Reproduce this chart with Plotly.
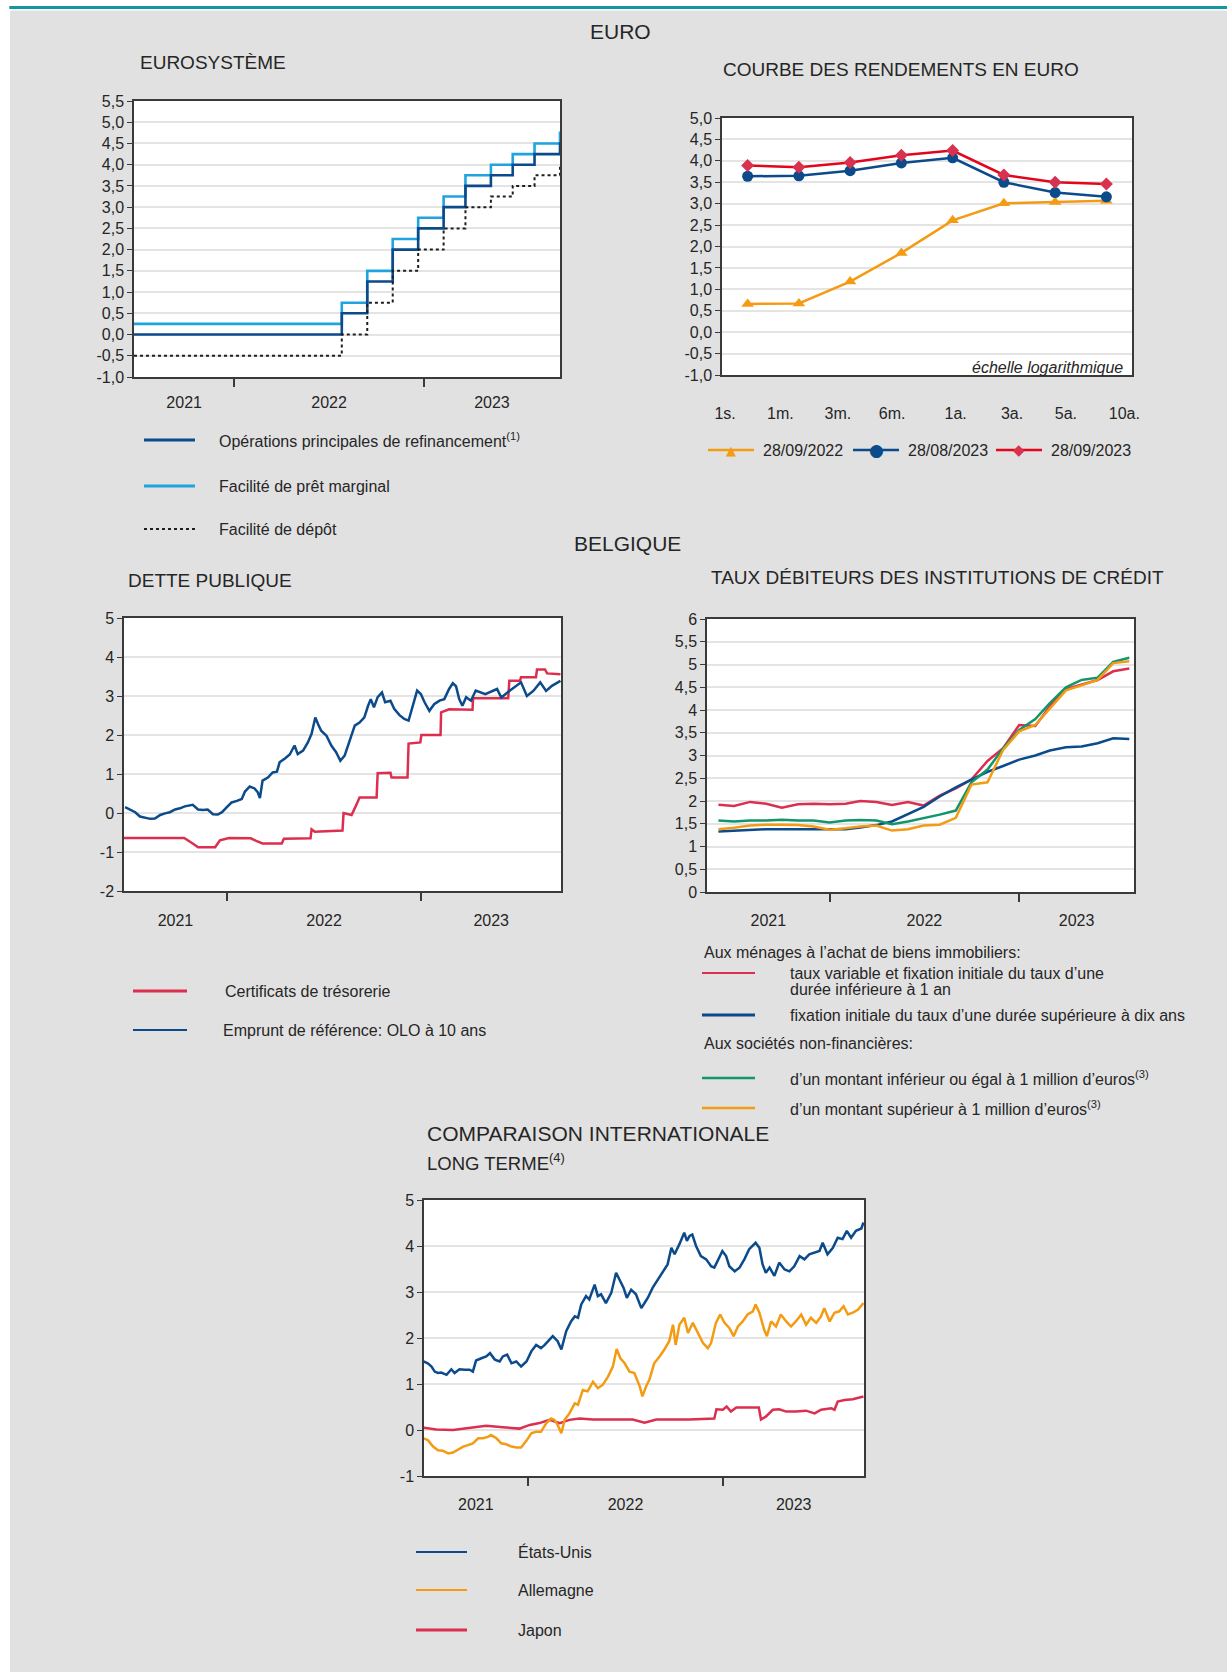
import pandas as pd
import plotly.graph_objects as go

W, H = 1227, 1672
FONT = "Liberation Sans, Arial, sans-serif"

# ---------------- colours ----------------
GREY_BG = "#e1e1e1"
TEAL = "#1597a1"
DARK_BLUE = "#0b4a8b"
LIGHT_BLUE = "#1fa4df"
ORANGE = "#f49b14"
RED_LINE = "#e3051b"
RED_MARK = "#d8324f"
CRIMSON = "#dc2f4f"
GREEN = "#13956b"
GRID = "#e4e4e4"
AXIS = "#3a3a3a"
TXT = "#262626"

# ---------------- data ----------------
# Chart 1 : Eurosystème policy rates (dates of changes)
ECB_DATES = ["2021-06-22", "2022-07-27", "2022-09-14", "2022-11-02", "2022-12-21", "2023-02-08",
             "2023-03-22", "2023-05-10", "2023-06-21", "2023-08-02", "2023-09-20", "2023-09-21"]
MRO = [0.00, 0.50, 1.25, 2.00, 2.50, 3.00, 3.50, 3.75, 4.00, 4.25, 4.50, 4.50]
MLF = [0.25, 0.75, 1.50, 2.25, 2.75, 3.25, 3.75, 4.00, 4.25, 4.50, 4.75, 4.75]
DFR = [-0.50, 0.00, 0.75, 1.50, 2.00, 2.50, 3.00, 3.25, 3.50, 3.75, 4.00, 4.00]

# Chart 2 : yield curve
MATURITY_LABELS = ["1s.", "1m.", "3m.", "6m.", "1a.", "3a.", "5a.", "10a."]
MATURITY_TICKPOS = [-0.44, 0.64, 1.76, 2.82, 4.06, 5.16, 6.21, 7.35]
CURVE_POINTS = [0, 1, 2, 3, 4, 5, 6, 7]
CURVE_DATES = ["28/09/2022", "28/08/2023", "28/09/2023"]
CURVE_2022_09_28 = [0.66, 0.67, 1.18, 1.85, 2.61, 3.01, 3.04, 3.07]
CURVE_2023_08_28 = [3.64, 3.65, 3.77, 3.95, 4.07, 3.50, 3.26, 3.16]
CURVE_2023_09_28 = [3.89, 3.85, 3.96, 4.13, 4.24, 3.67, 3.50, 3.46]

# Daily series: days relative to 1 January 2022
BASE_DATE = "2022-01-01"

# Chart 3 : Belgian public debt
OLO_DAYS = [-191, -182, -172, -163, -154, -144, -135, -125, -116, -107,
            -97, -88, -79, -69, -64, -54, -45, -36, -26, -17,
            -9, 0, 9, 19, 28, 34, 43, 52, 58, 62,
            67, 77, 86, 94, 99, 109, 118, 127, 133, 143,
            152, 159, 166, 171, 177, 187, 196, 205, 213, 221,
            230, 240, 249, 258, 265, 270, 276, 283, 291, 297,
            307, 314, 324, 333, 341, 349, 357, 364, 371, 380,
            389, 399, 408, 417, 424, 430, 436, 442, 449, 458,
            467, 485, 507, 515, 530, 552, 563, 575, 588, 599,
            610, 626]
OLO_VALS = [0.15, 0.09, 0.02, -0.09, -0.12, -0.15, -0.14, -0.05, -0.01, 0.02,
            0.09, 0.12, 0.17, 0.19, 0.21, 0.09, 0.08, 0.09, -0.03, -0.04,
            0.02, 0.15, 0.27, 0.31, 0.36, 0.55, 0.68, 0.63, 0.53, 0.38,
            0.83, 0.91, 1.04, 1.06, 1.30, 1.40, 1.50, 1.73, 1.51, 1.60,
            1.81, 2.03, 2.45, 2.28, 2.11, 1.98, 1.73, 1.56, 1.34, 1.47,
            1.81, 2.24, 2.32, 2.45, 2.75, 2.92, 2.71, 2.97, 3.09, 2.84,
            2.88, 2.67, 2.51, 2.41, 2.37, 2.75, 3.14, 3.05, 2.84, 2.62,
            2.79, 2.88, 2.92, 3.18, 3.33, 3.25, 2.92, 2.75, 2.97, 2.88,
            3.14, 3.05, 3.18, 2.96, 3.13, 3.35, 3.00, 3.13, 3.35, 3.13,
            3.26, 3.39]
TC_DAYS = [-193, -80, -62, -54, -22, -13, 4, 45, 54, 67,
           103, 107, 157, 159, 165, 217, 219, 234, 241, 249,
           281, 283, 307, 309, 339, 341, 363, 365, 401, 402,
           417, 461, 462, 528, 530, 550, 552, 580, 582, 597,
           601, 626]
TC_VALS = [-0.64, -0.64, -0.80, -0.88, -0.88, -0.70, -0.64, -0.65, -0.71, -0.78,
           -0.78, -0.66, -0.65, -0.42, -0.48, -0.45, 0.00, -0.05, 0.15, 0.40,
           0.40, 1.02, 1.03, 0.91, 0.91, 1.78, 1.81, 2.00, 2.00, 2.58,
           2.66, 2.65, 2.94, 2.94, 3.39, 3.39, 3.48, 3.48, 3.68, 3.68,
           3.58, 3.56]

# Chart 4 : lending rates (monthly)
MONTH_START, MONTH_END = "2021-06-01", "2023-08-01"
MORTGAGE_VARIABLE = [1.92, 1.89, 1.98, 1.94, 1.85, 1.93, 1.94, 1.93, 1.94, 2.00,
                     1.98, 1.91, 1.98, 1.90, 2.12, 2.28, 2.47, 2.88, 3.16, 3.67,
                     3.65, 4.08, 4.46, 4.55, 4.66, 4.85, 4.91]
MORTGAGE_FIXED10 = [1.33, 1.35, 1.36, 1.38, 1.38, 1.38, 1.38, 1.38, 1.38, 1.42,
                    1.47, 1.55, 1.71, 1.87, 2.10, 2.30, 2.47, 2.64, 2.77, 2.91,
                    3.00, 3.11, 3.18, 3.20, 3.27, 3.38, 3.36]
NFC_SMALL = [1.57, 1.55, 1.57, 1.57, 1.59, 1.57, 1.57, 1.53, 1.57, 1.58,
             1.57, 1.49, 1.55, 1.62, 1.70, 1.79, 2.41, 2.69, 3.16, 3.56,
             3.80, 4.15, 4.50, 4.66, 4.71, 5.06, 5.15]
NFC_LARGE = [1.38, 1.41, 1.46, 1.48, 1.48, 1.47, 1.44, 1.37, 1.40, 1.44,
             1.46, 1.35, 1.38, 1.46, 1.48, 1.63, 2.36, 2.41, 3.12, 3.53,
             3.67, 4.04, 4.43, 4.54, 4.66, 5.03, 5.07]

# Chart 5 : international long-term rates
US_DAYS = [-194, -186, -179, -173, -167, -161, -151, -142, -136, -127,
           -117, -108, -102, -96, -86, -77, -70, -61, -52, -46,
           -38, -30, -21, -12, -2, 7, 16, 25, 32, 41,
           47, 56, 63, 72, 81, 88, 94, 100, 109, 115,
           125, 131, 137, 146, 156, 165, 171, 179, 185, 193,
           202, 212, 218, 224, 233, 243, 252, 261, 268, 274,
           283, 292, 297, 302, 307, 314, 323, 333, 342, 348,
           354, 363, 370, 376, 386, 395, 404, 413, 425, 432,
           438, 444, 451, 460, 469, 479, 488, 497, 507, 516,
           525, 535, 544, 550, 559, 569, 578, 587, 595, 603,
           612, 622, 626]
US_VALS = [1.49, 1.45, 1.38, 1.27, 1.24, 1.25, 1.20, 1.32, 1.24, 1.32,
           1.31, 1.31, 1.27, 1.51, 1.56, 1.60, 1.67, 1.53, 1.49, 1.60,
           1.64, 1.45, 1.49, 1.38, 1.49, 1.71, 1.85, 1.78, 1.85, 1.96,
           2.04, 1.93, 1.75, 2.15, 2.36, 2.47, 2.44, 2.73, 2.91, 2.84,
           3.16, 2.91, 2.95, 2.76, 2.98, 3.42, 3.27, 3.09, 2.87, 3.05,
           2.95, 2.65, 2.76, 2.87, 3.09, 3.27, 3.45, 3.60, 3.96, 3.82,
           4.04, 4.29, 4.11, 4.22, 4.25, 4.00, 3.78, 3.71, 3.56, 3.53,
           3.67, 3.89, 3.78, 3.56, 3.45, 3.53, 3.71, 3.93, 4.07, 3.96,
           3.60, 3.42, 3.53, 3.35, 3.64, 3.49, 3.45, 3.56, 3.78, 3.71,
           3.82, 3.85, 3.89, 4.07, 3.82, 3.96, 4.18, 4.15, 4.33, 4.18,
           4.33, 4.38, 4.51]
DE_DAYS = [-194, -186, -176, -167, -158, -148, -139, -130, -120, -111,
           -102, -92, -83, -74, -68, -58, -49, -40, -30, -21,
           -12, -2, 7, 16, 25, 35, 44, 50, 56, 63,
           69, 78, 88, 94, 103, 112, 122, 131, 140, 150,
           159, 166, 173, 181, 190, 199, 209, 214, 221, 227,
           236, 246, 255, 264, 271, 276, 283, 292, 299, 308,
           317, 327, 336, 342, 351, 359, 367, 376, 384, 392,
           401, 410, 420, 425, 432, 441, 446, 454, 463, 472,
           482, 491, 500, 510, 519, 528, 538, 547, 553, 563,
           572, 581, 589, 597, 606, 616, 626]
DE_VALS = [-0.18, -0.22, -0.36, -0.44, -0.45, -0.51, -0.49, -0.42, -0.36, -0.33,
           -0.29, -0.18, -0.18, -0.15, -0.11, -0.18, -0.29, -0.31, -0.36, -0.38,
           -0.38, -0.23, -0.07, -0.04, -0.04, 0.15, 0.25, 0.22, 0.11, -0.07,
           0.22, 0.36, 0.58, 0.55, 0.87, 0.84, 1.05, 0.91, 0.98, 1.16,
           1.38, 1.76, 1.56, 1.45, 1.27, 1.24, 0.95, 0.73, 0.95, 1.09,
           1.45, 1.60, 1.75, 1.93, 2.29, 1.85, 2.29, 2.44, 2.11, 2.33,
           2.11, 1.89, 1.78, 1.89, 2.33, 2.51, 2.33, 2.22, 2.04, 2.25,
           2.36, 2.51, 2.58, 2.73, 2.55, 2.18, 2.04, 2.36, 2.25, 2.51,
           2.36, 2.25, 2.36, 2.51, 2.29, 2.44, 2.33, 2.47, 2.65, 2.36,
           2.55, 2.58, 2.69, 2.51, 2.55, 2.62, 2.76]
JP_DAYS = [-194, -170, -139, -108, -77, -46, -15, 4, 22, 41,
           60, 78, 97, 122, 147, 171, 196, 218, 240, 271,
           302, 348, 352, 364, 371, 379, 389, 407, 431, 435,
           444, 457, 469, 482, 500, 519, 535, 547, 566, 572,
           578, 591, 606, 626]
JP_VALS = [0.05, 0.01, 0.00, 0.05, 0.09, 0.06, 0.03, 0.11, 0.15, 0.22,
           0.15, 0.22, 0.25, 0.23, 0.23, 0.23, 0.23, 0.16, 0.23, 0.23,
           0.23, 0.25, 0.45, 0.44, 0.51, 0.40, 0.49, 0.49, 0.49, 0.23,
           0.29, 0.44, 0.45, 0.40, 0.40, 0.42, 0.36, 0.44, 0.47, 0.44,
           0.62, 0.65, 0.67, 0.73]

# Axis tick labels
Y1_VALS = [-1.0, -0.5, 0.0, 0.5, 1.0, 1.5, 2.0, 2.5, 3.0, 3.5, 4.0, 4.5, 5.0, 5.5]
Y1_TEXT = ["-1,0", "-0,5", "0,0", "0,5", "1,0", "1,5", "2,0", "2,5", "3,0", "3,5", "4,0", "4,5", "5,0", "5,5"]
Y2_VALS = [-1.0, -0.5, 0.0, 0.5, 1.0, 1.5, 2.0, 2.5, 3.0, 3.5, 4.0, 4.5, 5.0]
Y2_TEXT = ["-1,0", "-0,5", "0,0", "0,5", "1,0", "1,5", "2,0", "2,5", "3,0", "3,5", "4,0", "4,5", "5,0"]
Y3_VALS = [-2, -1, 0, 1, 2, 3, 4, 5]
Y3_TEXT = ["-2", "-1", "0", "1", "2", "3", "4", "5"]
Y4_VALS = [0, 0.5, 1, 1.5, 2, 2.5, 3, 3.5, 4, 4.5, 5, 5.5, 6]
Y4_TEXT = ["0", "0,5", "1", "1,5", "2", "2,5", "3", "3,5", "4", "4,5", "5", "5,5", "6"]
Y5_VALS = [-1, 0, 1, 2, 3, 4, 5]
Y5_TEXT = ["-1", "0", "1", "2", "3", "4", "5"]

DAILY_RANGE = ("2021-06-22", "2023-09-20")
MONTHLY_RANGE = ("2021-05-10", "2023-08-10")

TICK_SIZE = 16
TEXT_SIZE = 16

# ---------------- helpers ----------------
def to_dates(days):
    return pd.Timestamp(BASE_DATE) + pd.to_timedelta(days, unit="D")


def dom_x(a, b):
    return [a / W, b / W]


def dom_y(top, bottom):
    return [1 - bottom / H, 1 - top / H]


def y_axis(domain, anchor, rng, vals, texts):
    return dict(domain=domain, anchor=anchor, range=rng, tickmode="array", tickvals=vals,
                ticktext=texts, showgrid=True, gridcolor=GRID, gridwidth=2, zeroline=False,
                showline=True, linecolor=AXIS, linewidth=1.5, mirror=True, ticks="outside",
                ticklen=5, tickwidth=1, tickcolor=AXIS, tickfont=dict(size=TICK_SIZE, color=TXT),
                automargin=False, fixedrange=True)


def date_axis(domain, anchor, start, end, standoff):
    s, e = pd.Timestamp(start), pd.Timestamp(end)
    bounds = [pd.Timestamp(f"{y}-01-01") for y in range(s.year + 1, e.year + 1)]
    edges = [s] + bounds + [e]
    mids = [a + (b - a) / 2 for a, b in zip(edges[:-1], edges[1:])]
    return dict(domain=domain, anchor=anchor, type="date", range=[s, e], tickmode="array",
                tickvals=mids, ticktext=[str(m.year) for m in mids], ticks="",
                showgrid=False, zeroline=False, showline=True, mirror=True, linecolor=AXIS,
                linewidth=1.5, tickfont=dict(size=TICK_SIZE, color=TXT), ticklabelstandoff=standoff,
                minor=dict(tickmode="array", tickvals=bounds, ticks="outside", ticklen=8,
                           tickwidth=1.5, tickcolor=AXIS, showgrid=False),
                automargin=False, fixedrange=True)


fig = go.Figure()

# ---------------- chart 1 ----------------
fig.add_trace(go.Scatter(x=ECB_DATES, y=MLF, mode="lines", xaxis="x", yaxis="y",
                         line=dict(color=LIGHT_BLUE, width=2.6, shape="hv")))
fig.add_trace(go.Scatter(x=ECB_DATES, y=MRO, mode="lines", xaxis="x", yaxis="y",
                         line=dict(color=DARK_BLUE, width=2.6, shape="hv")))
fig.add_trace(go.Scatter(x=ECB_DATES, y=DFR, mode="lines", xaxis="x", yaxis="y",
                         line=dict(color="#1e1e1e", width=2, dash="dot", shape="hv")))

# ---------------- chart 2 ----------------
fig.add_trace(go.Scatter(x=CURVE_POINTS, y=CURVE_2022_09_28, mode="lines+markers",
                         xaxis="x2", yaxis="y2", line=dict(color=ORANGE, width=2.5),
                         marker=dict(symbol="triangle-up", size=11, color=ORANGE)))
fig.add_trace(go.Scatter(x=CURVE_POINTS, y=CURVE_2023_08_28, mode="lines+markers",
                         xaxis="x2", yaxis="y2", line=dict(color=DARK_BLUE, width=2.5),
                         marker=dict(symbol="circle", size=11, color=DARK_BLUE)))
fig.add_trace(go.Scatter(x=CURVE_POINTS, y=CURVE_2023_09_28, mode="lines+markers",
                         xaxis="x2", yaxis="y2", line=dict(color=RED_LINE, width=2.5),
                         marker=dict(symbol="diamond", size=10, color=RED_MARK)))

# ---------------- chart 3 ----------------
fig.add_trace(go.Scatter(x=to_dates(TC_DAYS), y=TC_VALS, mode="lines", xaxis="x3", yaxis="y3",
                         line=dict(color=CRIMSON, width=2.5)))
fig.add_trace(go.Scatter(x=to_dates(OLO_DAYS), y=OLO_VALS, mode="lines", xaxis="x3", yaxis="y3",
                         line=dict(color=DARK_BLUE, width=2.5)))

# ---------------- chart 4 ----------------
months = pd.date_range(MONTH_START, MONTH_END, freq="MS")
for vals, col in [(MORTGAGE_VARIABLE, CRIMSON), (MORTGAGE_FIXED10, DARK_BLUE),
                  (NFC_SMALL, GREEN), (NFC_LARGE, ORANGE)]:
    fig.add_trace(go.Scatter(x=months, y=vals, mode="lines", xaxis="x4", yaxis="y4",
                             line=dict(color=col, width=2.5)))

# ---------------- chart 5 ----------------
fig.add_trace(go.Scatter(x=to_dates(JP_DAYS), y=JP_VALS, mode="lines", xaxis="x5", yaxis="y5",
                         line=dict(color=CRIMSON, width=2.5)))
fig.add_trace(go.Scatter(x=to_dates(DE_DAYS), y=DE_VALS, mode="lines", xaxis="x5", yaxis="y5",
                         line=dict(color=ORANGE, width=2.5)))
fig.add_trace(go.Scatter(x=to_dates(US_DAYS), y=US_VALS, mode="lines", xaxis="x5", yaxis="y5",
                         line=dict(color=DARK_BLUE, width=2.5)))

# ---------------- axes ----------------
layout_axes = dict(
    xaxis=date_axis(dom_x(134, 560), "y", *DAILY_RANGE, 10),
    yaxis=y_axis(dom_y(101, 377), "x", [-1, 5.5], Y1_VALS, Y1_TEXT),
    xaxis2=dict(domain=dom_x(722, 1132), anchor="y2", range=[-0.5, 7.5], tickmode="array",
                tickvals=MATURITY_TICKPOS, ticktext=MATURITY_LABELS, ticks="", showgrid=False,
                zeroline=False, showline=True, mirror=True, linecolor=AXIS, linewidth=1.5,
                tickfont=dict(size=TICK_SIZE, color=TXT), ticklabelstandoff=23,
                automargin=False, fixedrange=True),
    yaxis2=y_axis(dom_y(118, 375), "x2", [-1, 5], Y2_VALS, Y2_TEXT),
    xaxis3=date_axis(dom_x(124, 561), "y3", *DAILY_RANGE, 14),
    yaxis3=y_axis(dom_y(618, 891), "x3", [-2, 5], Y3_VALS, Y3_TEXT),
    xaxis4=date_axis(dom_x(707, 1134), "y4", *MONTHLY_RANGE, 13),
    yaxis4=y_axis(dom_y(619, 892), "x4", [0, 6], Y4_VALS, Y4_TEXT),
    xaxis5=date_axis(dom_x(424, 864), "y5", *DAILY_RANGE, 13),
    yaxis5=y_axis(dom_y(1200, 1476), "x5", [-1, 5], Y5_VALS, Y5_TEXT),
)

# ---------------- text ----------------
annotations = []


def text(t, x, y, size=TEXT_SIZE, xanchor="left", color=TXT, family=FONT):
    annotations.append(dict(text=t, x=x / W, y=1 - y / H, xref="paper", yref="paper",
                            xanchor=xanchor, yanchor="middle", showarrow=False,
                            font=dict(size=size, color=color, family=family)))


text("EURO", 620, 32, 21, "center")
text("EUROSYSTÈME", 138, 63, 19)
text("COURBE DES RENDEMENTS EN EURO", 721, 70, 19)
text("<i>échelle logarithmique</i>", 1125, 367, 16, "right")
text("BELGIQUE", 627, 543, 21, "center")
text("DETTE PUBLIQUE", 126, 580, 19)
text("TAUX DÉBITEURS DES INSTITUTIONS DE CRÉDIT", 709, 577, 19)
text("COMPARAISON INTERNATIONALE", 425, 1133, 21)
text("LONG TERME<sup>(4)</sup>", 425, 1162, 18.5)

shapes = [
    dict(type="rect", xref="paper", yref="paper", x0=0, x1=1, y0=1 - 10.5 / H, y1=1,
         fillcolor="white", line=dict(width=0), layer="above"),
    dict(type="rect", xref="paper", yref="paper", x0=0, x1=10 / W, y0=0, y1=1,
         fillcolor="white", line=dict(width=0), layer="above"),
    dict(type="rect", xref="paper", yref="paper", x0=9.3 / W, x1=1, y0=1 - 9 / H, y1=1 - 6 / H,
         fillcolor=TEAL, line=dict(width=0), layer="above"),
]


def legend_line(x0, x1, y, color, width=2.5, dash="solid"):
    shapes.append(dict(type="line", xref="paper", yref="paper", x0=x0 / W, x1=x1 / W,
                       y0=1 - y / H, y1=1 - y / H, line=dict(color=color, width=width, dash=dash)))


# chart 1 legend
legend_line(144, 195, 440, DARK_BLUE, 3)
text("Opérations principales de refinancement<sup>(1)</sup>", 217, 440)
legend_line(144, 195, 486, LIGHT_BLUE, 3)
text("Facilité de prêt marginal", 217, 486)
legend_line(144, 195, 529, "#1e1e1e", 2, "dot")
text("Facilité de dépôt", 217, 529)

# chart 2 legend (line sample + marker glyph + label)
for (x0, glyph, gsize, col, mcol), label in zip(
        [(708, "▲", 13, ORANGE, ORANGE), (853, "●", 17, DARK_BLUE, DARK_BLUE),
         (996, "◆", 15, RED_LINE, RED_MARK)], CURVE_DATES):
    legend_line(x0, x0 + 46, 450, col, 2.5)
    text(glyph, x0 + 23, 450, gsize, "center", mcol, "DejaVu Sans")
    text(label, x0 + 53, 450)

# chart 3 legend
legend_line(133, 187, 991, CRIMSON, 3)
text("Certificats de trésorerie", 223, 991)
legend_line(133, 187, 1030, DARK_BLUE, 2)
text("Emprunt de référence: OLO à 10 ans", 221, 1030)

# chart 4 legend
text("Aux ménages à l’achat de biens immobiliers:", 702, 952)
legend_line(702, 755, 973, CRIMSON, 2)
text("taux variable et fixation initiale du taux d’une", 788, 973)
text("durée inférieure à 1 an", 788, 989)
legend_line(702, 755, 1015, DARK_BLUE, 3)
text("fixation initiale du taux d’une durée supérieure à dix ans", 788, 1015)
text("Aux sociétés non-financières:", 702, 1043)
legend_line(702, 755, 1078, GREEN, 2.5)
text("d’un montant inférieur ou égal à 1 million d’euros<sup>(3)</sup>", 788, 1078)
legend_line(702, 755, 1108, ORANGE, 2.5)
text("d’un montant supérieur à 1 million d’euros<sup>(3)</sup>", 788, 1108)

# chart 5 legend
legend_line(416, 467, 1552, DARK_BLUE, 2)
text("États-Unis", 516, 1552)
legend_line(416, 467, 1590, ORANGE, 2)
text("Allemagne", 516, 1590)
legend_line(416, 467, 1630, CRIMSON, 3)
text("Japon", 516, 1630)

fig.update_layout(
    width=W, height=H, autosize=False,
    margin=dict(l=0, r=0, t=0, b=0, pad=0, autoexpand=False),
    paper_bgcolor=GREY_BG, plot_bgcolor="white",
    font=dict(family=FONT, size=TEXT_SIZE, color=TXT),
    showlegend=False,
    annotations=annotations,
    shapes=shapes,
    **layout_axes,
)

fig.write_html(
    "out.html",
    config={"displayModeBar": False},
    post_script=(
        "document.documentElement.style.margin='0';document.body.style.margin='0';"
        "document.documentElement.style.overflow='hidden';document.body.style.overflow='hidden';"
    ),
)
